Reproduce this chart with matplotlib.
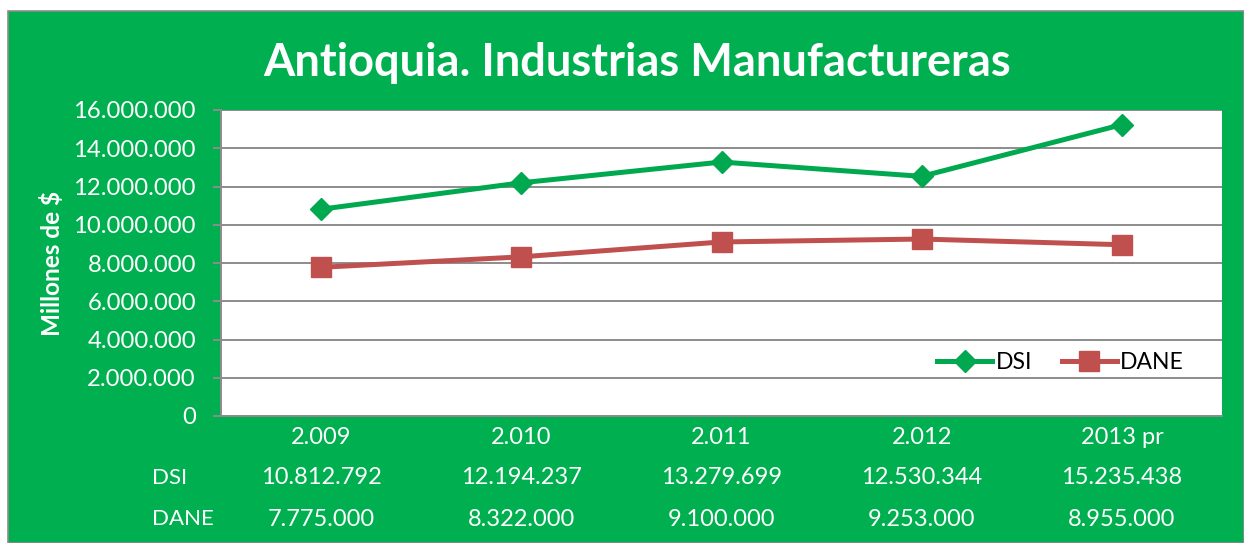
import matplotlib
matplotlib.use('Agg')
import matplotlib.pyplot as plt
import matplotlib.transforms as mtransforms
from matplotlib.patches import Rectangle

categories = ['2.009', '2.010', '2.011', '2.012', '2013 pr']
dsi = [10812792, 12194237, 13279699, 12530344, 15235438]
dane = [7775000, 8322000, 9100000, 9253000, 8955000]
yticks = [0, 2000000, 4000000, 6000000, 8000000, 10000000, 12000000, 14000000, 16000000]

W, H = 1244, 543
green = '#00B050'
c_dsi = '#00A94F'
c_dane = '#C0504D'
grid = '#8C8C8C'

plt.rcParams['font.family'] = ['Lato', 'DejaVu Sans']

def fmt(v):
    return f'{v:,}'.replace(',', '.')

fig = plt.figure(figsize=(W / 100, H / 100), dpi=100)
fig.patch.set_facecolor('white')
# green chart frame
fig.patches.append(Rectangle((8 / W, 0), 1 - 8 / W, 1 - 11 / H, transform=fig.transFigure,
                             facecolor=green, edgecolor='#8C8C8C', linewidth=1.2, zorder=-5))

ax = fig.add_axes([221 / W, 1 - 416 / H, (1222 - 221) / W, (416 - 110) / H])
ax.set_facecolor('white')
x = list(range(len(categories)))
ax.plot(x, dsi, color=c_dsi, lw=3.6, marker='D', ms=11, label='DSI', zorder=3)
ax.plot(x, dane, color=c_dane, lw=3.6, marker='s', ms=14, label='DANE', zorder=3)

ax.set_xlim(-0.5, 4.5)
ax.set_ylim(0, 16000000)
ax.set_yticks(yticks)
ax.set_yticklabels([fmt(v) for v in yticks], color='white', fontsize=17.2)
ax.set_xticks([])
ax.yaxis.grid(True, color=grid, lw=1.4)
ax.set_axisbelow(True)
ax.tick_params(axis='y', length=6, width=1.4, color=grid, pad=12)
for s in ['top', 'right']:
    ax.spines[s].set_visible(False)
for s in ['left', 'bottom']:
    ax.spines[s].set_color(grid)
    ax.spines[s].set_linewidth(1.4)

leg = ax.legend(loc='center right', bbox_to_anchor=(0.962, 0.176), ncol=2, frameon=False,
                fontsize=16.5, handlelength=2.4, handletextpad=0.15, columnspacing=1.3,
                borderaxespad=0, borderpad=0)

fig.text(637 / W, 1 - 63 / H, 'Antioquia. Industrias Manufactureras', color='white',
         fontsize=32.5, fontweight='bold', ha='center', va='center')
fig.text(52 / W, 1 - 263 / H, 'Millones de $', color='white', fontsize=17.5,
         fontweight='bold', rotation=90, ha='center', va='center')

# data table below the plot
tr = mtransforms.blended_transform_factory(ax.transData, fig.transFigure)
rows = [('', categories), ('DSI', [fmt(v) for v in dsi]), ('DANE', [fmt(v) for v in dane])]
for (name, vals), ypx in zip(rows, [437, 478, 519]):
    yf = 1 - ypx / H
    if name:
        fig.text(152 / W, yf, name, color='white', fontsize=16, ha='left', va='center')
    for xi, v in zip(x, vals):
        ax.text(xi, yf, v, transform=tr, color='white', fontsize=17, ha='center', va='center',
                clip_on=False)

fig.savefig('out.png', dpi=100, facecolor=fig.get_facecolor())
